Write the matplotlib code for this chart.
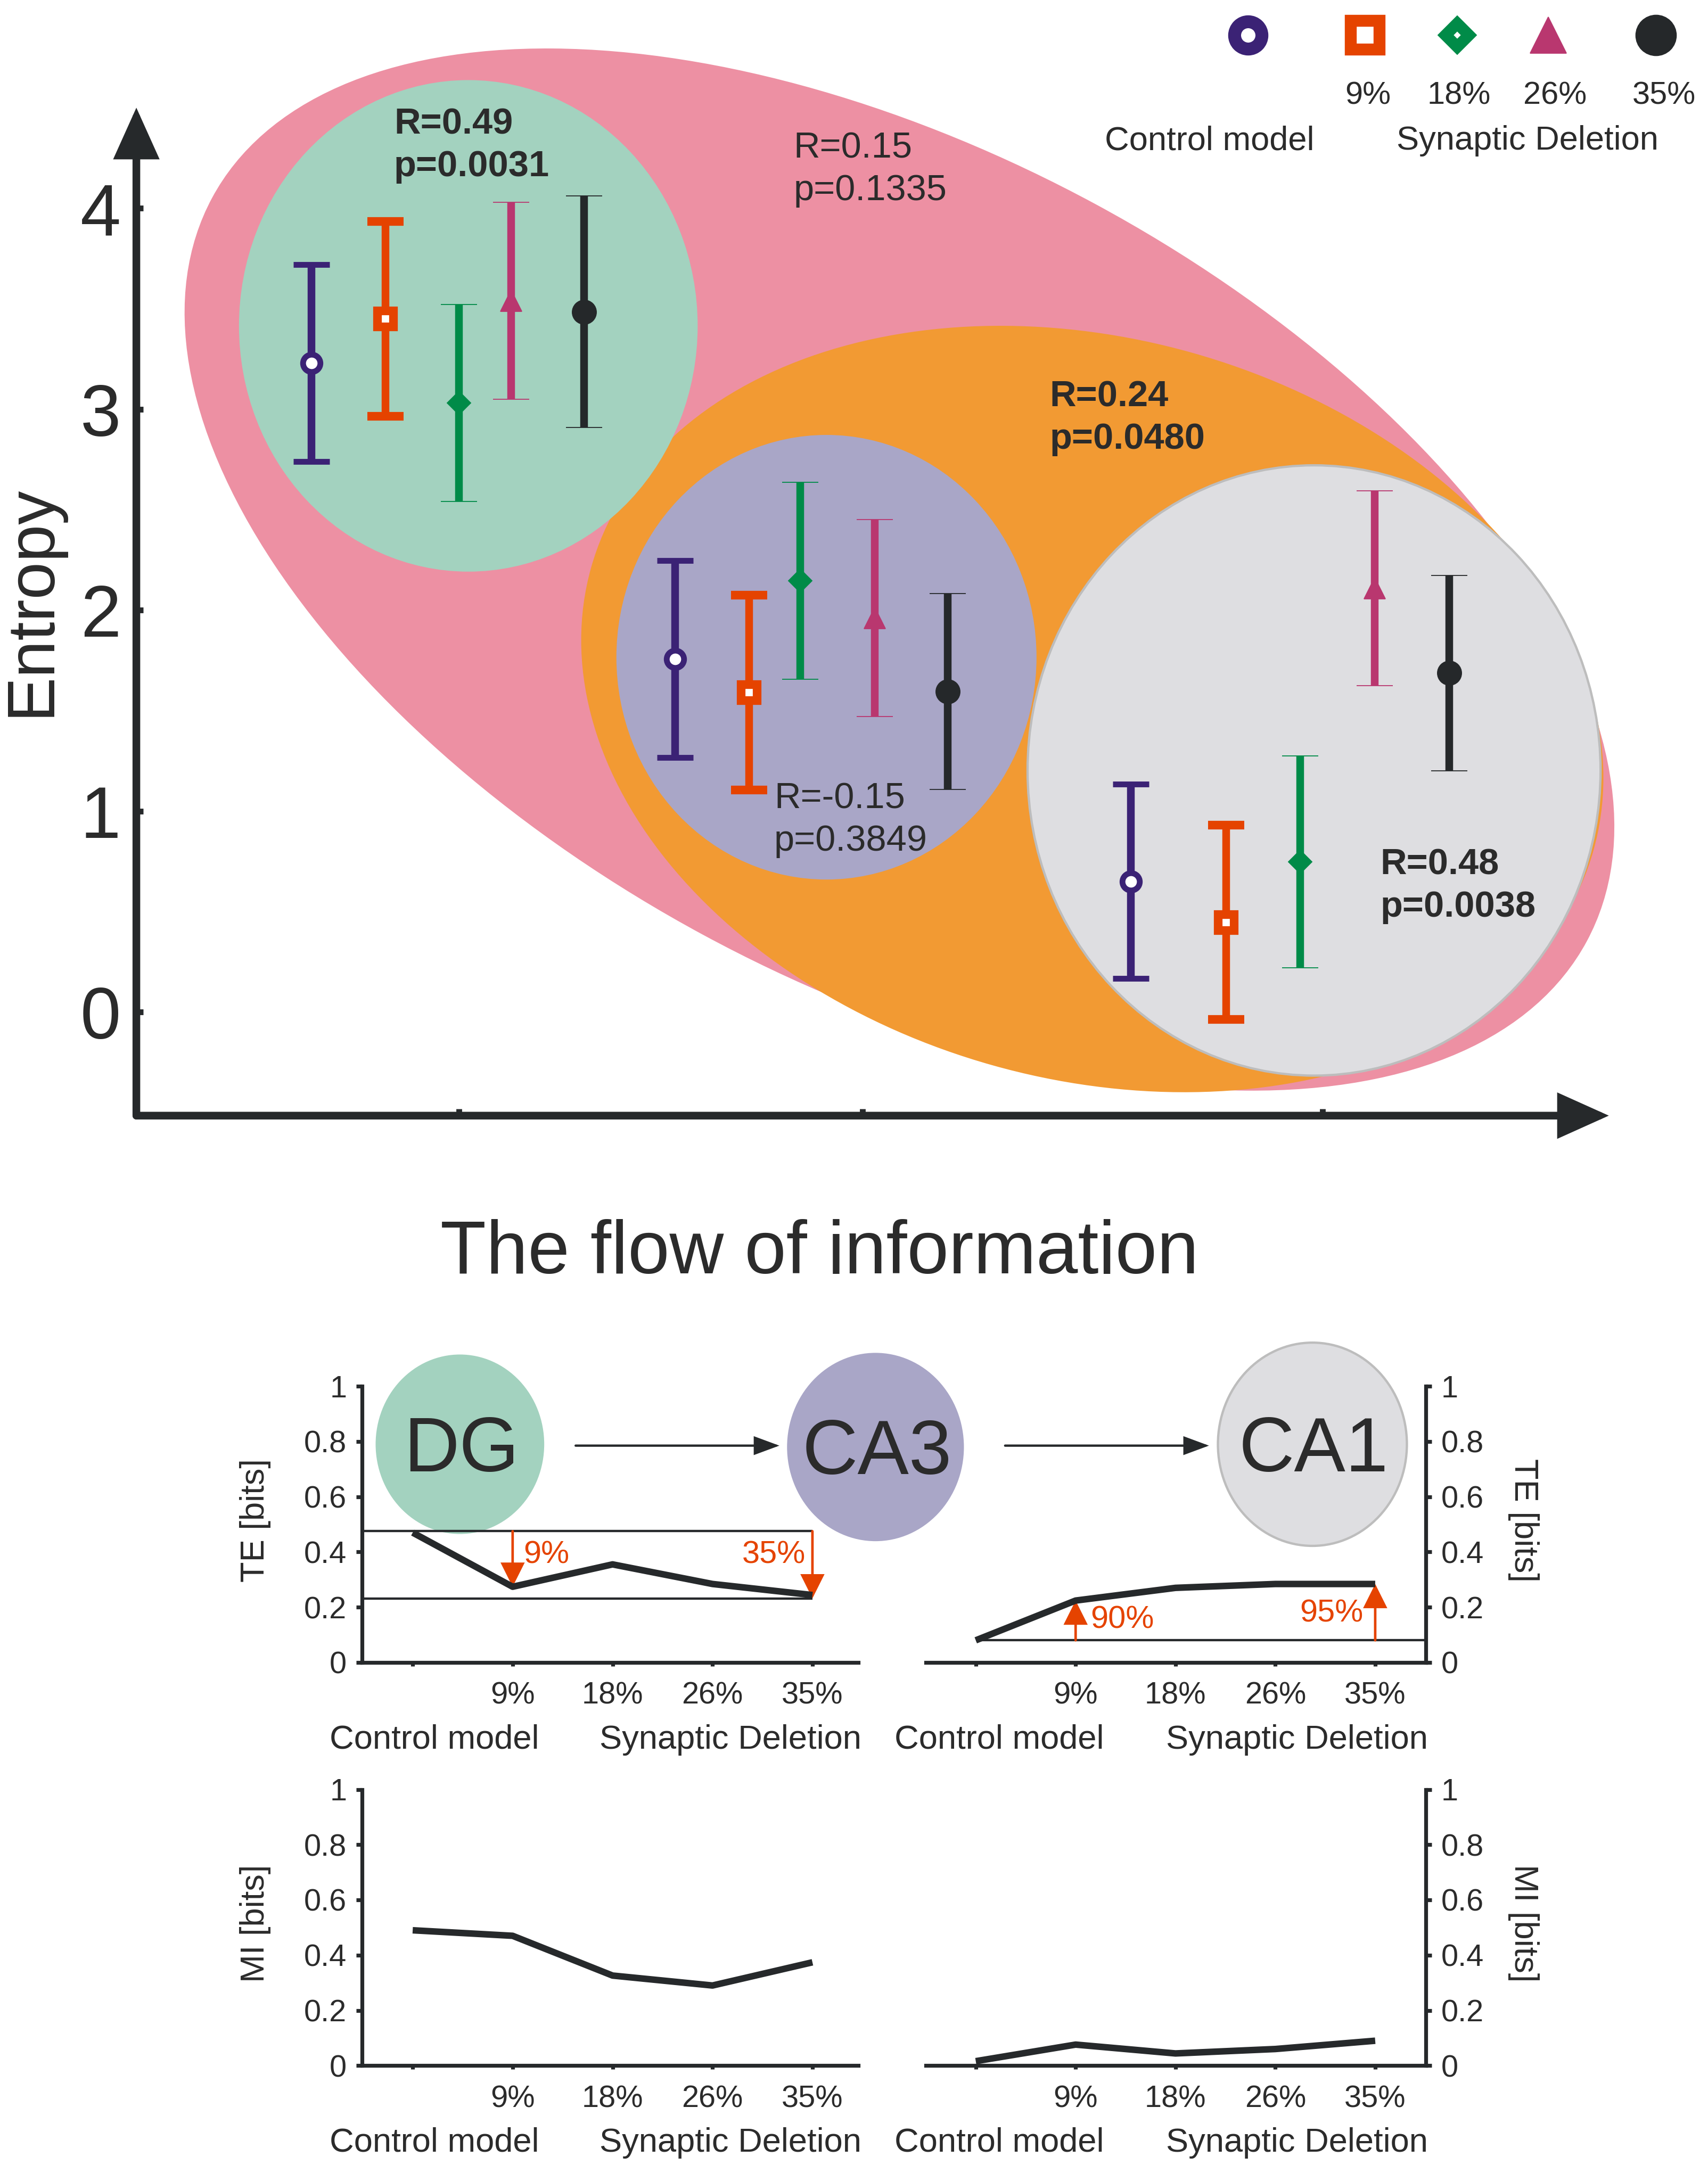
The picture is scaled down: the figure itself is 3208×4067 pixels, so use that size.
import matplotlib
matplotlib.use('Agg')
import matplotlib.pyplot as plt
from matplotlib.patches import Ellipse
import numpy as np

plt.rcParams['font.family'] = ['Liberation Sans', 'DejaVu Sans']

# ---- data -------------------------------------------------------------
conditions = ['Control model', '9%', '18%', '26%', '35%']
cond_ticks = ['', '9%', '18%', '26%', '35%']

# entropy (mean +- error) per region, x positions along the flow axis
dg_x = [1.27, 1.81, 2.34, 2.72, 3.25]
dg_mean = [3.23, 3.45, 3.03, 3.54, 3.485]
dg_err = [0.49, 0.485, 0.49, 0.49, 0.575]

ca3_x = [3.91, 4.45, 4.82, 5.36, 5.89]
ca3_mean = [1.757, 1.59, 2.145, 1.96, 1.596]
ca3_err = [0.49, 0.485, 0.49, 0.49, 0.487]

ca1_x = [7.22, 7.91, 8.45, 8.99, 9.53]
ca1_mean = [0.651, 0.447, 0.748, 2.11, 1.687]
ca1_err = [0.484, 0.484, 0.528, 0.485, 0.486]

flow_ticks = [2.34, 5.27, 8.61]
entropy_ticks = [0, 1, 2, 3, 4]

stat_r = ['R=0.49', 'R=0.15', 'R=0.24', 'R=-0.15', 'R=0.48']
stat_p = ['p=0.0031', 'p=0.1335', 'p=0.0480', 'p=0.3849', 'p=0.0038']
stat_bold = [True, False, True, False, True]

# transfer entropy / mutual information, DG->CA3 (left) and CA3->CA1 (right)
te_dg = [0.47, 0.274, 0.355, 0.284, 0.244]
te_dg_ref = [0.475, 0.232]
te_ca1 = [0.08, 0.224, 0.27, 0.284, 0.284]
te_ca1_ref = 0.08
mi_dg = [0.49, 0.47, 0.326, 0.29, 0.374]
mi_ca1 = [0.016, 0.076, 0.044, 0.06, 0.09]
te_change_left = ['9%', '35%']
te_change_right = ['90%', '95%']
bits_ticks = [0, 0.2, 0.4, 0.6, 0.8, 1]
bits_labels = ['0', '0.2', '0.4', '0.6', '0.8', '1']

# ---- styles -----------------------------------------------------------
dark = '#26292B'
txt = '#2B2B2B'
red = '#E54300'
cond_colors = ['#3B2275', '#E54300', '#008B48', '#B9376F', '#25282A']
cond_markers = ['o', 's', 'D', '^', 'o']
plot_ms = [9, 8.5, 8.8, 11, 12.5]
plot_mew = [3, 4.5, 0.5, 0.5, 0.5]
plot_mfc = ['white', 'white', None, None, None]
leg_ms = [14.2, 15, 8.8, 19, 21]
leg_mew = [6.7, 6.2, 6, 0.5, 0.5]
leg_mfc = ['white', 'white', 'white', None, None]

W, H = 1240, 1568


def box(left, top, right, bottom):
    return [left / W, 1 - bottom / H, (right - left) / W, (bottom - top) / H]


fig = plt.figure(figsize=(3208 / 260, 4067 / 260), dpi=260)

# background layer (group ellipses, legend, notes)
bg = fig.add_axes([0, 0, 1, 1])
bg.set_xlim(0, W)
bg.set_ylim(H, 0)
bg.axis('off')
bg.set_zorder(0)

bg.add_patch(Ellipse((653, 412.5), 2 * 567, 2 * 300.5, angle=28.35,
                     color='#ED90A3', lw=0, zorder=1))
bg.add_patch(Ellipse((793, 513.5), 2 * 378, 2 * 268, angle=15.7,
                     color='#F29A33', lw=0, zorder=2))
bg.add_patch(Ellipse((340, 236), 2 * 166.5, 2 * 178,
                     color='#A3D2BF', lw=0, zorder=3))
bg.add_patch(Ellipse((600, 476), 2 * 152.5, 2 * 161,
                     color='#A9A6C7', lw=0, zorder=3))
bg.add_patch(Ellipse((954, 558), 2 * 208, 2 * 221, facecolor='#DEDEE1',
                     edgecolor='#BDBDBD', lw=1.2, zorder=4))

stat_pos = [(286, 90), (576, 107.5), (762, 287.5), (562, 578.5), (1002, 626.5)]
for (sx, sy), r, p, b in zip(stat_pos, stat_r, stat_p, stat_bold):
    w = 'bold' if b else 'normal'
    bg.text(sx, sy, r, fontsize=19, fontweight=w, color=txt,
            ha='left', va='center', zorder=6)
    bg.text(sx, sy + 30.5, p, fontsize=19, fontweight=w, color=txt,
            ha='left', va='center', zorder=6)

# legend
leg_x = [906, 991, 1058, 1124, 1202]
leg_lab_x = [None, 993, 1059, 1129, 1208]
for k in range(5):
    bg.plot(leg_x[k], 25.5, marker=cond_markers[k], ms=leg_ms[k],
            mew=leg_mew[k], color=cond_colors[k],
            mfc=leg_mfc[k] or cond_colors[k], mec=cond_colors[k],
            ls='none', zorder=6)
    if k > 0:
        bg.text(leg_lab_x[k], 69.5, conditions[k], fontsize=16.5, color=txt,
                ha='center', va='center')
bg.text(878, 102, 'Control model', fontsize=17.5, color=txt,
        ha='center', va='center')
bg.text(1109, 102, 'Synaptic Deletion', fontsize=17.5, color=txt,
        ha='center', va='center')

bg.text(23, 435, 'Entropy', rotation=90, fontsize=35, color=txt,
        ha='center', va='center')
bg.text(595, 908, 'The flow of information', fontsize=39, color=txt,
        ha='center', va='center')

# region bubbles in the lower part
regions = ['DG', 'CA3', 'CA1']
bub = [(333.9, 1046, 61.2, 65, '#A3D2BF', 'none'),
       (635.6, 1048, 64.2, 68.2, '#A9A6C7', 'none'),
       (952.8, 1046, 68.6, 73.6, '#DEDEE1', '#BDBDBD')]
for name, (cx, cy, rx, ry, fc, ec) in zip(regions, bub):
    bg.add_patch(Ellipse((cx, cy), 2 * rx, 2 * ry, facecolor=fc,
                         edgecolor=ec, lw=1.2, zorder=3))
    bg.text(cx + 1, cy + 5, name, fontsize=40, color=txt,
            ha='center', va='center', zorder=5)
for x0, x1 in [(417.9, 565.8), (729.7, 877.7)]:
    bg.annotate('', xy=(x1, 1047), xytext=(x0, 1047),
                arrowprops=dict(arrowstyle='-|>,head_length=1,head_width=0.37',
                                mutation_scale=11, lw=1.2, color=dark,
                                shrinkA=0, shrinkB=0, joinstyle='miter'))

# ---- main entropy panel ----------------------------------------------
ax = fig.add_axes(box(99, 78, 1168, 808))
ax.set_zorder(1)
ax.patch.set_visible(False)
ax.set_xlim(0, 10.69)
ax.set_ylim(-0.515, 4.50)
for s in ax.spines.values():
    s.set_visible(False)

for xs, ms_, es in [(dg_x, dg_mean, dg_err), (ca3_x, ca3_mean, ca3_err),
                    (ca1_x, ca1_mean, ca1_err)]:
    for k in range(5):
        c = cond_colors[k]
        ax.errorbar(xs[k], ms_[k], yerr=es[k], fmt=cond_markers[k], color=c,
                    ms=plot_ms[k], mew=plot_mew[k], mec=c,
                    mfc=plot_mfc[k] or c, elinewidth=4, capsize=9.3,
                    capthick=3.8, zorder=5)

arrow_kw = dict(arrowstyle='-|>,head_length=1,head_width=0.45',
                mutation_scale=20, lw=4, color=dark, shrinkA=0, shrinkB=0,
                joinstyle='miter')
ax.annotate('', xy=(0, 1), xytext=(0, 0), xycoords='axes fraction',
            arrowprops=arrow_kw)
ax.annotate('', xy=(1, 0), xytext=(0, 0), xycoords='axes fraction',
            arrowprops=arrow_kw)

ax.set_yticks(entropy_ticks)
ax.set_yticklabels([str(v) for v in entropy_ticks], fontsize=38, color=txt)
ax.set_xticks(flow_ticks)
ax.set_xticklabels([])
ax.tick_params(axis='both', direction='in', length=3.5, width=3,
               color=dark, pad=8)


# ---- TE / MI panels ---------------------------------------------------
def small_panel(rect, values, right, ylabel, xlim):
    a = fig.add_axes(rect)
    a.set_zorder(1)
    a.patch.set_visible(False)
    a.plot(range(5), values, color=dark, lw=3.4, solid_capstyle='butt',
           zorder=4)
    a.set_xlim(*xlim)
    a.set_ylim(0, 1)
    a.spines['top'].set_visible(False)
    a.spines['right' if not right else 'left'].set_visible(False)
    for s in ['bottom', 'right' if right else 'left']:
        a.spines[s].set_linewidth(2)
        a.spines[s].set_color(dark)
    if right:
        a.yaxis.tick_right()
    a.set_yticks(bits_ticks)
    a.set_yticklabels(bits_labels, fontsize=16, color=txt)
    a.set_xticks(range(5))
    a.set_xticklabels(cond_ticks, fontsize=16, color=txt)
    a.tick_params(axis='y', direction='out', length=3, width=2,
                  color=dark, pad=5)
    a.tick_params(axis='x', direction='out', length=2, width=2,
                  color=dark, pad=8)
    a.text(0.146, -0.28, 'Control model', transform=a.transAxes,
           fontsize=17.5, color=txt, ha='center', va='center')
    a.text(0.742, -0.28, 'Synaptic Deletion', transform=a.transAxes,
           fontsize=17.5, color=txt, ha='center', va='center')
    if right:
        a.text(1.196, 0.515, ylabel, transform=a.transAxes, rotation=270,
               fontsize=17.5, color=txt, ha='center', va='center')
    else:
        a.text(-0.215, 0.515, ylabel, transform=a.transAxes, rotation=90,
               fontsize=17.5, color=txt, ha='center', va='center')
    return a


xl_left = (-0.506, 4.46)
xl_right = (-0.498, 4.505)
te_l = small_panel(box(262.9, 1004, 623.2, 1204), te_dg, False,
                   'TE [bits]', xl_left)
te_r = small_panel(box(672.3, 1004, 1035, 1204), te_ca1, True,
                   'TE [bits]', xl_right)
mi_l = small_panel(box(262.9, 1296, 623.2, 1496), mi_dg, False,
                   'MI [bits]', xl_left)
mi_r = small_panel(box(672.3, 1296, 1035, 1496), mi_ca1, True,
                   'MI [bits]', xl_right)

red_arrow = dict(arrowstyle='-|>,head_length=1,head_width=0.5',
                 mutation_scale=10.5, lw=1.3, color=red, shrinkA=0, shrinkB=0,
                 joinstyle='miter')

te_l.hlines(te_dg_ref, xl_left[0], 4, color=dark, lw=1.2, zorder=3)
te_l.annotate('', xy=(1, te_dg[1]), xytext=(1, te_dg_ref[0]),
              arrowprops=red_arrow)
te_l.annotate('', xy=(4, te_dg_ref[1]), xytext=(4, te_dg_ref[0]),
              arrowprops=red_arrow)
te_l.text(1.11, 0.39, te_change_left[0], color=red, fontsize=16.5,
          ha='left', va='center')
te_l.text(3.93, 0.39, te_change_left[1], color=red, fontsize=16.5,
          ha='right', va='center')

te_r.hlines(te_ca1_ref, 0, xl_right[1], color=dark, lw=1.2, zorder=3)
te_r.annotate('', xy=(1, te_ca1[1]), xytext=(1, te_ca1_ref),
              arrowprops=red_arrow)
te_r.annotate('', xy=(4, te_ca1[4]), xytext=(4, te_ca1_ref),
              arrowprops=red_arrow)
te_r.text(1.15, 0.154, te_change_right[0], color=red, fontsize=16.5,
          ha='left', va='center')
te_r.text(3.88, 0.178, te_change_right[1], color=red, fontsize=16.5,
          ha='right', va='center')

fig.savefig('out.png', dpi=260)
